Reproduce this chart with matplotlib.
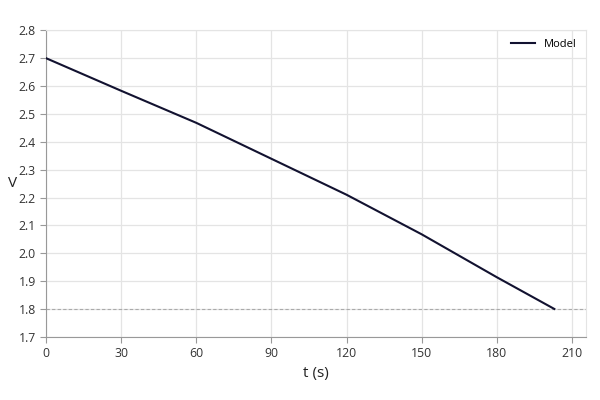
import numpy as np
import matplotlib
matplotlib.use("Agg")
import matplotlib.pyplot as plt

# model discharge curve
t_s = [0, 30, 60, 90, 120, 150, 180, 203]
volts = [2.70, 2.583, 2.468, 2.339, 2.21, 2.068, 1.914, 1.80]
cutoff = 1.8
x_ticks = [0, 30, 60, 90, 120, 150, 180, 210]
y_ticks = [1.7, 1.8, 1.9, 2.0, 2.1, 2.2, 2.3, 2.4, 2.5, 2.6, 2.7, 2.8]

plt.rcParams['font.family'] = ['Open Sans', 'DejaVu Sans']

fig = plt.figure(figsize=(6, 4), dpi=100)
ax = fig.add_axes([0.077, 0.158, 0.899, 0.766])

ax.axhline(cutoff, color='#aaaaaa', lw=0.8, ls=(0, (3, 2)), zorder=1)
ax.plot(t_s, volts, color='#121230', lw=1.5, label='Model', zorder=3)

ax.set_xlim(0, 215.5)
ax.set_ylim(1.7, 2.8)
ax.set_xticks(x_ticks)
ax.set_yticks(y_ticks)
ax.set_yticklabels(['%.1f' % v for v in y_ticks])
ax.grid(True, color='#e4e4e4', lw=0.9)
ax.set_axisbelow(True)

for s in ['top', 'right']:
    ax.spines[s].set_color('#e4e4e4')
for s in ['left', 'bottom']:
    ax.spines[s].set_color('#999999')
ax.tick_params(axis='both', labelsize=8.8, colors='#333333', length=4,
               width=0.8, color='#999999')

ax.set_xlabel('t (s)', fontsize=11, color='#222222', labelpad=4)
ax.set_ylabel('V', fontsize=11, color='#222222', rotation=0, va='center')
ax.yaxis.set_label_coords(-0.063, 0.5)

leg = ax.legend(loc='upper right', frameon=False, fontsize=8, handlelength=2.2,
                borderaxespad=0.4)

fig.savefig('out.png', dpi=100)
